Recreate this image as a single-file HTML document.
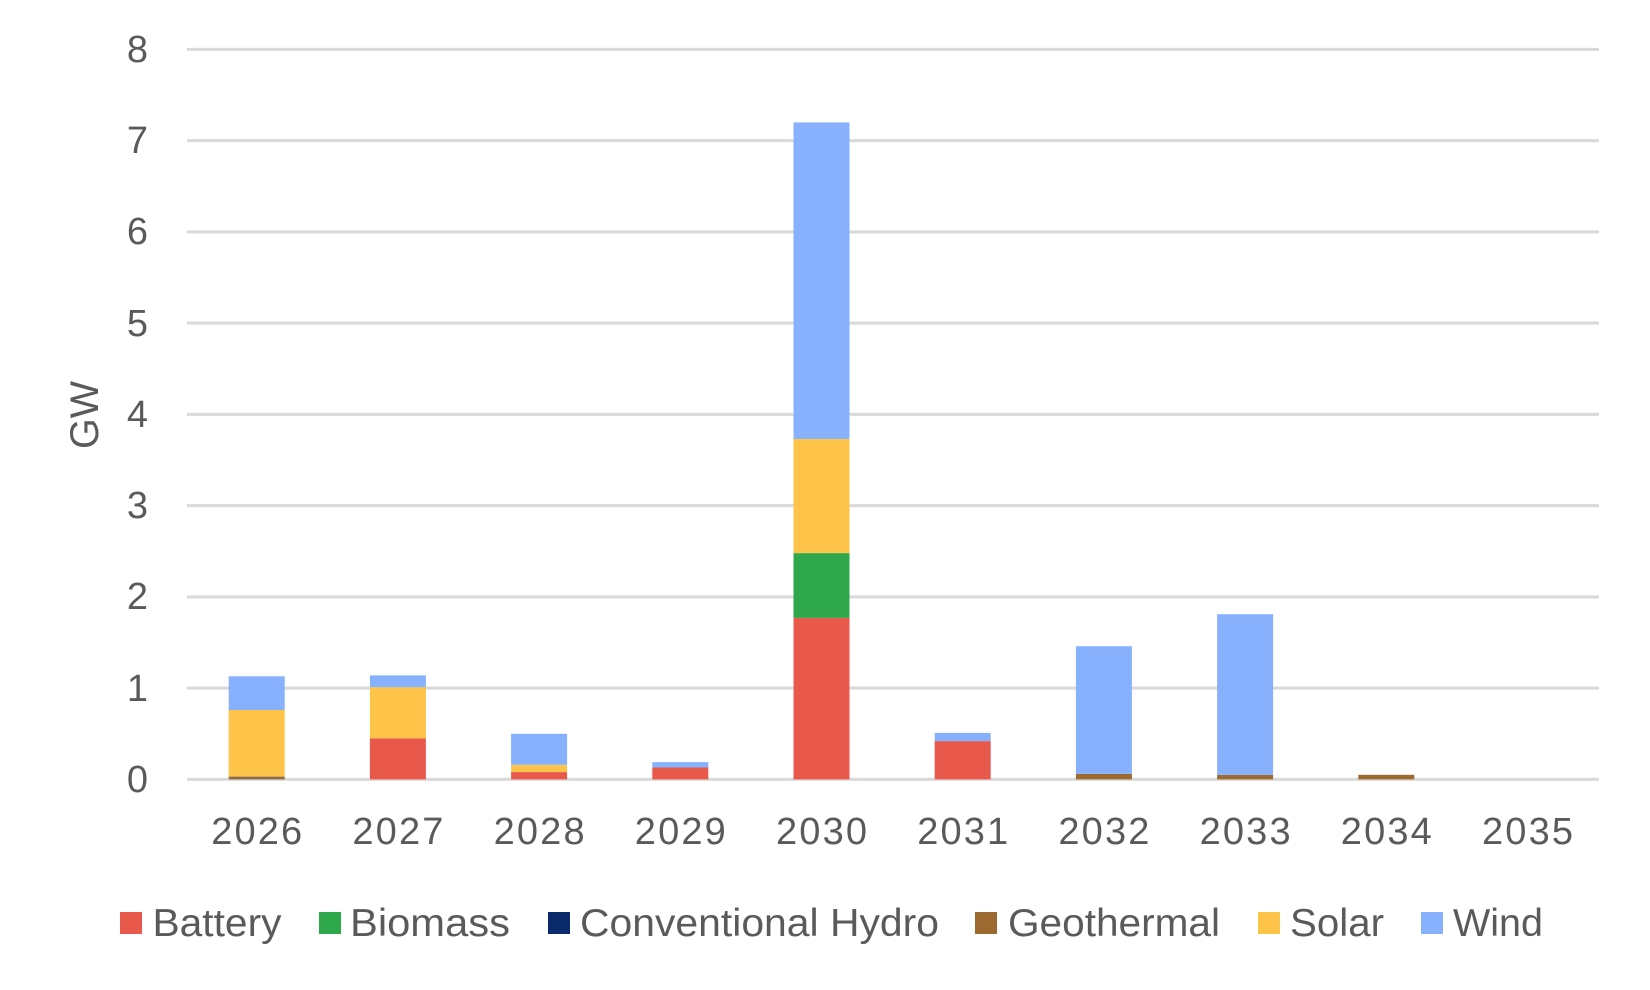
<!DOCTYPE html>
<html><head><meta charset="utf-8"><style>
html,body{margin:0;padding:0;background:#fff}
svg{display:block}
text{font-family:"Liberation Sans",Arial,sans-serif;fill:#5a5a5a}
</style></head><body>
<svg width="1650" height="990" viewBox="0 0 1650 990" xmlns="http://www.w3.org/2000/svg">
<g stroke="#d9d9d9" stroke-width="3">
<line x1="187" x2="1599" y1="49.4" y2="49.4"/>
<line x1="187" x2="1599" y1="140.6" y2="140.6"/>
<line x1="187" x2="1599" y1="231.9" y2="231.9"/>
<line x1="187" x2="1599" y1="323.1" y2="323.1"/>
<line x1="187" x2="1599" y1="414.4" y2="414.4"/>
<line x1="187" x2="1599" y1="505.6" y2="505.6"/>
<line x1="187" x2="1599" y1="596.9" y2="596.9"/>
<line x1="187" x2="1599" y1="688.1" y2="688.1"/>
<line x1="187" x2="1599" y1="779.4" y2="779.4"/>
</g>
<g font-size="38" text-anchor="end">
<text x="148" y="62">8</text><text x="148" y="153">7</text><text x="148" y="244">6</text>
<text x="148" y="336">5</text><text x="148" y="427">4</text><text x="148" y="518">3</text>
<text x="148" y="609">2</text><text x="148" y="701">1</text><text x="148" y="792">0</text>
</g>
<text font-size="40" transform="translate(98,415) rotate(-90)" text-anchor="middle" textLength="68" lengthAdjust="spacingAndGlyphs">GW</text>
<g>
<rect x="228.7" y="710" width="56" height="69.4" fill="#fdc449"/>
<rect x="228.7" y="676.3" width="56" height="33.7" fill="#87b1fd"/>
<rect x="228.7" y="776.7" width="56" height="2.7" fill="#8a6a4a"/>

<rect x="369.9" y="738.3" width="56" height="41.1" fill="#e8594c"/>
<rect x="369.9" y="687.2" width="56" height="51.1" fill="#fdc449"/>
<rect x="369.9" y="675.4" width="56" height="11.8" fill="#87b1fd"/>

<rect x="511.1" y="772.1" width="56" height="7.3" fill="#e8594c"/>
<rect x="511.1" y="764.8" width="56" height="7.3" fill="#fdc449"/>
<rect x="511.1" y="733.8" width="56" height="31" fill="#87b1fd"/>

<rect x="652.3" y="767.5" width="56" height="11.9" fill="#e8594c"/>
<rect x="652.3" y="762.1" width="56" height="5.4" fill="#87b1fd"/>

<rect x="793.5" y="617.9" width="56" height="161.5" fill="#e8594c"/>
<rect x="793.5" y="553.1" width="56" height="64.8" fill="#2ea84a"/>
<rect x="793.5" y="439" width="56" height="114.1" fill="#fdc449"/>
<rect x="793.5" y="122.4" width="56" height="316.6" fill="#87b1fd"/>

<rect x="934.7" y="741.1" width="56" height="38.3" fill="#e8594c"/>
<rect x="934.7" y="732.9" width="56" height="8.2" fill="#87b1fd"/>

<rect x="1075.9" y="773.9" width="56" height="5.5" fill="#9c6a30"/>
<rect x="1075.9" y="646.2" width="56" height="127.7" fill="#87b1fd"/>

<rect x="1217.1" y="774.8" width="56" height="4.6" fill="#9c6a30"/>
<rect x="1217.1" y="614.2" width="56" height="160.6" fill="#87b1fd"/>

<rect x="1358.3" y="774.8" width="56" height="4.6" fill="#9c6a30"/>
</g>
<g font-size="38" text-anchor="middle" lengthAdjust="spacingAndGlyphs">
<text x="256.7" y="844" textLength="91">2026</text><text x="397.9" y="844" textLength="91">2027</text><text x="539.1" y="844" textLength="91">2028</text>
<text x="680.3" y="844" textLength="91">2029</text><text x="821.5" y="844" textLength="91">2030</text><text x="962.7" y="844" textLength="91">2031</text>
<text x="1103.9" y="844" textLength="91">2032</text><text x="1245.1" y="844" textLength="91">2033</text><text x="1386.3" y="844" textLength="91">2034</text>
<text x="1527.5" y="844" textLength="91">2035</text>
</g>
<g font-size="39">
<rect x="120" y="912" width="22" height="22" fill="#e8594c"/><text x="152.5" y="936" textLength="129" lengthAdjust="spacingAndGlyphs">Battery</text>
<rect x="319" y="912" width="22" height="22" fill="#2ea84a"/><text x="350" y="936" textLength="160" lengthAdjust="spacingAndGlyphs">Biomass</text>
<rect x="548" y="912" width="22" height="22" fill="#0a2a6b"/><text x="580" y="936" textLength="359" lengthAdjust="spacingAndGlyphs">Conventional Hydro</text>
<rect x="975" y="912" width="22" height="22" fill="#9c6a30"/><text x="1008" y="936" textLength="212" lengthAdjust="spacingAndGlyphs">Geothermal</text>
<rect x="1258" y="912" width="22" height="22" fill="#fdc449"/><text x="1290" y="936" textLength="94" lengthAdjust="spacingAndGlyphs">Solar</text>
<rect x="1421" y="912" width="22" height="22" fill="#87b1fd"/><text x="1453" y="936" textLength="90" lengthAdjust="spacingAndGlyphs">Wind</text>
</g>
</svg>
</body></html>
